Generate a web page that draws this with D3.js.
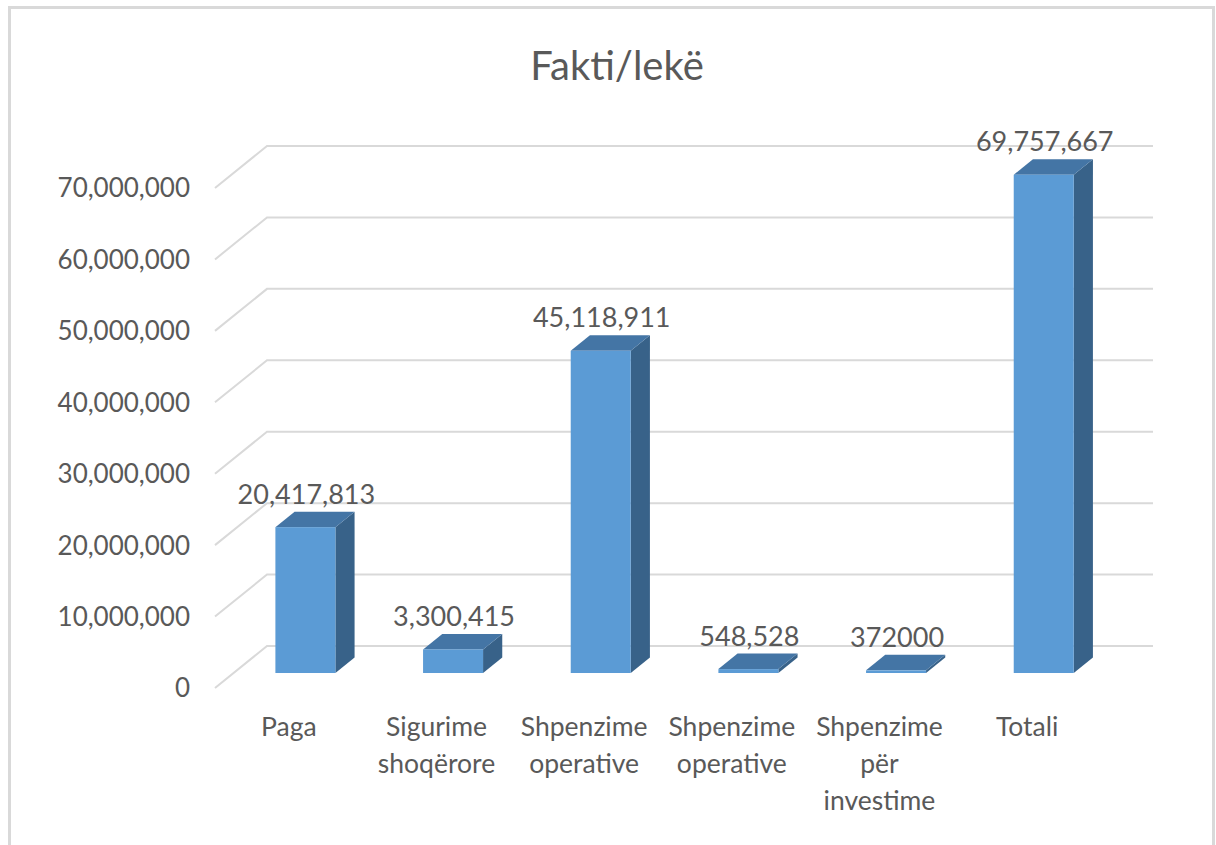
<!DOCTYPE html>
<html>
<head>
<meta charset="utf-8">
<script src="https://cdn.jsdelivr.net/npm/d3@7"></script>
<style>
  body { margin: 0; background: #ffffff; }
  text { font-family: Lato, "Open Sans", sans-serif; fill: #595959; }
</style>
</head>
<body>
<div id="chart"></div>
<script>
  // data
  var categories = ["Paga", "Sigurime shoqërore", "Shpenzime operative", "Shpenzime operative ", "Shpenzime për investime", "Totali"];
  var categoryLines = [["Paga"], ["Sigurime", "shoqërore"], ["Shpenzime", "operative"], ["Shpenzime", "operative"], ["Shpenzime", "për", "investime"], ["Totali"]];
  var values = [20417813, 3300415, 45118911, 548528, 372000, 69757667];
  var valueLabels = ["20,417,813", "3,300,415", "45,118,911", "548,528", "372000", "69,757,667"];
  var tickValues = [0, 10000000, 20000000, 30000000, 40000000, 50000000, 60000000, 70000000];

  var width = 1216, height = 845;

  // 3d offsets: full depth of the floor/wall, bar front and back depth
  var depthX = 52, depthY = -42;
  var barFront = 0.357, barBack = 0.726;

  var svg = d3.select("#chart")
    .append("svg")
    .attr("width", width)
    .attr("height", height);

  // chart border
  svg.append("rect")
    .attr("x", 9.5)
    .attr("y", 7.5)
    .attr("width", 1204)
    .attr("height", 860)
    .attr("fill", "none")
    .attr("stroke", "#d9d9d9")
    .attr("stroke-width", 3);

  // title
  svg.append("text")
    .attr("x", 617)
    .attr("y", 80)
    .attr("text-anchor", "middle")
    .style("font-size", "40px")
    .text("Fakti/lekë");

  /*
    scales on the front plane
  */
  var x = d3.scaleBand()
    .domain(categories)
    .range([215, 1101])
    .padding(0);

  var y = d3.scaleLinear()
    .domain([0, 70000000])
    .range([688, 188]);

  // gridlines: diagonal on the side wall, then straight along the back wall
  var grid = svg.append("g");
  tickValues.forEach(function (t) {
    grid.append("path")
      .attr("d", "M215," + y(t) + "L" + (215 + depthX) + "," + (y(t) + depthY) + "H1153")
      .attr("fill", "none")
      .attr("stroke", "#d9d9d9")
      .attr("stroke-width", 2);
  });

  // y axis labels
  var fmt = d3.format(",");
  svg.append("g")
    .selectAll("text")
    .data(tickValues)
    .enter().append("text")
    .attr("x", 190)
    .attr("y", function (d) { return y(d); })
    .attr("dy", "0.36em")
    .attr("text-anchor", "end")
    .style("font-size", "26px")
    .text(function (d) { return fmt(d); });

  /*
    bars: front face, top, right side
  */
  var barW = 60;
  var bars = svg.append("g")
    .selectAll("g")
    .data(values)
    .enter().append("g");

  function pts(list) {
    return list.map(function (p) { return p.join(","); }).join(" ");
  }

  bars.each(function (d, i) {
    var g = d3.select(this);
    var cx = x(categories[i]) + x.bandwidth() / 2;
    var x0 = cx - barW / 2 + depthX * barFront - 2;
    var x1 = x0 + barW;
    var yTop = y(d) + depthY * barFront;
    var yBot = y(0) + depthY * barFront;
    var ddx = depthX * (barBack - barFront);
    var ddy = depthY * (barBack - barFront);

    g.append("polygon")
      .attr("points", pts([[x1, yTop], [x1 + ddx, yTop + ddy], [x1 + ddx, yBot + ddy], [x1, yBot]]))
      .attr("fill", "#386289");
    g.append("polygon")
      .attr("points", pts([[x0, yTop], [x1, yTop], [x1 + ddx, yTop + ddy], [x0 + ddx, yTop + ddy]]))
      .attr("fill", "#4475a5");
    g.append("rect")
      .attr("x", x0)
      .attr("y", yTop)
      .attr("width", barW)
      .attr("height", yBot - yTop)
      .attr("fill", "#5b9bd5");

    // value label above the bar
    g.append("text")
      .attr("x", x0 + barW / 2 + 1)
      .attr("y", yTop + ddy - 8)
      .attr("text-anchor", "middle")
      .style("font-size", "27px")
      .text(valueLabels[i]);
  });

  // category labels
  var cat = svg.append("g")
    .selectAll("text")
    .data(categories)
    .enter().append("text")
    .attr("text-anchor", "middle")
    .style("font-size", "26.5px");

  cat.each(function (d, i) {
    var t = d3.select(this);
    var cx = x(d) + x.bandwidth() / 2;
    categoryLines[i].forEach(function (line, k) {
      t.append("tspan")
        .attr("x", cx)
        .attr("y", 736 + k * 37)
        .text(line);
    });
  });
</script>
</body>
</html>
